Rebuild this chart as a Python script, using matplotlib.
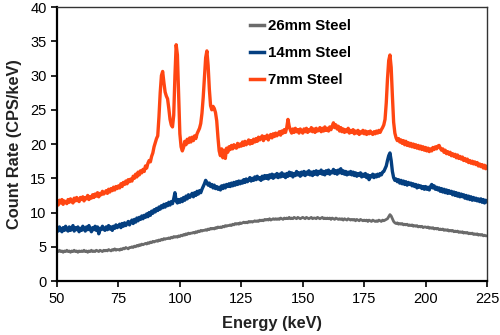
import numpy as np
import matplotlib
matplotlib.use("Agg")
import matplotlib.pyplot as plt

plt.rcParams['font.family'] = ['Liberation Sans', 'DejaVu Sans']

# Energy channels, 0.5 keV apart
energy = np.linspace(50, 225, 351)

steel_7mm = [
    11.6, 11.1, 11.8, 11.4, 11.9, 11.2, 11.7, 11.5, 11.3, 11.9,
    11.5, 12.0, 11.6, 11.4, 12.1, 11.7, 12.2, 11.8, 11.6, 12.2,
    11.9, 12.3, 11.7, 12.2, 12.0, 12.5, 11.9, 12.3, 12.1, 12.6,
    12.2, 12.7, 12.4, 12.9, 12.3, 12.8, 12.6, 13.1, 12.7, 12.9,
    13.2, 12.8, 13.4, 13.0, 13.5, 13.2, 13.7, 13.3, 13.8, 13.5,
    13.9, 13.6, 14.2, 13.8, 14.4, 14.1, 14.6, 14.2, 14.8, 14.5,
    14.9, 14.6, 15.3, 15.0, 15.6, 15.2, 15.9, 15.5, 16.1, 15.8,
    16.3, 16.0, 16.8, 16.5, 17.2, 17.6, 17.4, 18.2, 18.7, 19.6,
    20.2, 20.8, 21.2, 24.0, 27.5, 30.0, 30.6, 29.0, 27.6, 27.0,
    26.6, 25.2, 23.6, 22.8, 22.5, 24.2, 30.0, 34.5, 33.0, 27.0,
    21.5, 19.6, 19.0, 19.5, 20.4, 19.9, 20.7, 20.2, 20.9, 20.3,
    21.0, 20.5, 21.2, 20.8, 21.5, 21.9, 22.3, 23.0, 24.5, 26.8,
    29.8, 32.6, 33.6, 31.5, 28.0, 25.6, 25.0, 25.5, 25.2, 24.6,
    23.4, 21.0, 19.0, 18.3, 19.3, 18.0, 19.1, 17.9, 19.4, 18.8,
    19.6, 19.2, 19.8, 19.3, 19.9, 19.5, 19.4, 20.1, 19.6, 20.0,
    19.7, 20.3, 19.8, 20.4, 19.9, 20.2, 20.6, 20.0, 20.5, 20.1,
    20.7, 20.3, 20.8, 20.4, 21.0, 20.6, 20.9, 21.2, 20.5, 21.1,
    20.8, 21.3, 20.6, 21.1, 21.4, 20.9, 21.5, 21.1, 21.6, 21.2,
    21.5, 21.8, 21.3, 21.9, 21.6, 22.1, 21.7, 22.4, 23.6, 22.6,
    22.0, 21.6, 22.2, 21.7, 22.3, 21.8, 22.1, 21.6, 22.2, 21.9,
    21.6, 22.2, 21.8, 22.3, 21.7, 22.1, 21.9, 22.4, 21.8, 22.2,
    21.7, 22.3, 21.9, 22.0, 22.4, 21.8, 22.3, 21.9, 22.5, 22.0,
    22.3, 21.9, 22.5, 22.1, 22.6, 23.1, 22.4, 22.8, 22.2, 22.6,
    21.9, 22.4, 21.8, 22.2, 21.7, 22.1, 21.8, 22.3, 21.6, 22.0,
    21.7, 22.1, 21.5, 21.9, 21.6, 22.0, 21.4, 21.8, 21.6, 22.0,
    21.5, 21.9, 21.4, 21.8, 21.5, 21.9, 21.6, 21.4, 21.8, 21.5,
    21.9, 21.6, 22.0, 21.7, 22.1, 22.4, 22.8, 23.6, 26.0, 29.5,
    32.2, 33.0, 31.2, 27.0, 23.2, 21.6, 20.9, 20.5, 20.8, 20.3,
    20.6, 20.1, 20.5, 19.9, 20.4, 19.8, 20.2, 19.7, 20.1, 19.6,
    20.0, 19.5, 19.9, 19.4, 19.8, 19.3, 19.7, 19.2, 19.6, 19.1,
    19.5, 19.0, 19.4, 18.9, 19.3, 19.0, 19.5, 19.2, 19.6, 19.3,
    19.7, 19.8, 19.4, 19.1, 19.3, 18.8, 19.1, 18.6, 18.9, 18.5,
    18.8, 18.3, 18.6, 18.2, 18.5, 18.0, 18.4, 17.9, 18.2, 17.8,
    18.1, 17.6, 17.9, 17.5, 17.8, 17.3, 17.6, 17.2, 17.5, 17.1,
    17.4, 17.0, 17.3, 16.8, 17.1, 16.7, 17.0, 16.5, 16.9, 16.4,
    16.7,
]

steel_14mm = [
    7.8, 7.3, 7.9, 7.5, 7.2, 7.8, 7.4, 8.0, 7.5, 7.3,
    7.9, 7.4, 7.7, 8.1, 7.3, 7.8, 7.5, 7.9, 7.2, 7.7,
    7.4, 8.0, 7.6, 7.3, 7.9, 7.5, 8.1, 7.6, 7.2, 7.8,
    7.5, 8.0, 7.4, 7.9, 6.9, 7.7, 7.5, 8.0, 7.6, 7.4,
    7.9, 7.5, 8.1, 7.6, 7.9, 7.4, 8.0, 7.7, 8.2, 7.8,
    8.0, 8.3, 7.8, 8.4, 8.0, 8.5, 8.1, 8.4, 8.7, 8.2,
    8.6, 8.9, 8.4, 9.0, 8.6, 9.2, 8.8, 9.3, 9.0, 9.5,
    9.1, 9.6, 9.3, 9.8, 9.4, 10.0, 9.6, 10.2, 9.9, 10.4,
    10.1, 10.6, 10.3, 10.8, 10.5, 11.0, 10.7, 11.2, 10.8, 11.3,
    11.0, 11.5, 11.1, 11.6, 11.3, 12.0, 12.9, 11.7, 11.4, 11.9,
    11.5, 12.0, 11.6, 12.2, 11.8, 12.4, 12.0, 12.6, 12.2, 12.5,
    12.8, 12.3, 12.9, 12.5, 13.1, 12.7, 13.2, 12.9, 13.4, 13.8,
    14.2, 14.7, 14.4, 14.0, 14.3, 13.8, 14.1, 13.6, 14.0, 13.5,
    13.8, 13.4, 13.7, 13.3, 13.9, 13.5, 14.0, 13.6, 14.1, 13.8,
    14.2, 13.8, 14.3, 13.9, 14.4, 14.0, 14.5, 14.1, 14.6, 14.2,
    14.6, 14.3, 14.8, 14.4, 14.9, 14.5, 14.8, 15.1, 14.6, 15.0,
    14.7, 15.2, 14.8, 15.3, 14.9, 15.1, 14.7, 15.3, 14.9, 15.4,
    15.0, 15.4, 14.9, 15.5, 15.1, 15.6, 15.0, 15.5, 15.2, 15.7,
    15.1, 15.6, 15.2, 15.8, 15.3, 15.6, 15.1, 15.7, 15.3, 15.9,
    15.4, 15.8, 15.2, 15.7, 15.4, 16.0, 15.5, 15.8, 15.3, 15.9,
    15.5, 16.0, 15.4, 15.9, 15.6, 16.1, 15.5, 15.9, 15.4, 16.0,
    15.6, 16.1, 15.5, 16.0, 15.7, 16.2, 15.6, 16.0, 15.5, 16.1,
    15.7, 16.2, 15.6, 16.0, 15.8, 16.3, 15.7, 16.1, 15.6, 16.2,
    15.8, 16.4, 15.7, 16.1, 15.6, 16.0, 15.5, 15.9, 15.6, 16.0,
    15.5, 15.9, 15.4, 15.8, 15.3, 15.7, 15.4, 15.8, 15.2, 15.6,
    15.3, 15.7, 15.1, 15.5, 14.8, 15.4, 15.2, 15.6, 15.1, 15.5,
    15.2, 15.6, 15.3, 15.7, 15.5, 15.9, 16.0, 16.4, 16.8, 17.6,
    18.3, 18.7, 17.6, 16.0, 15.1, 14.7, 14.9, 14.5, 14.8, 14.3,
    14.7, 14.2, 14.6, 14.1, 14.5, 14.0, 14.4, 14.1, 14.3, 13.9,
    14.2, 13.8, 14.1, 13.6, 14.0, 13.7, 13.9, 13.5, 13.8, 13.4,
    13.8, 13.4, 13.7, 13.3, 13.8, 14.1, 13.6, 13.9, 13.4, 13.7,
    13.3, 13.6, 13.1, 13.5, 13.0, 13.4, 12.9, 13.3, 12.8, 13.2,
    12.8, 13.1, 12.6, 13.0, 12.5, 12.9, 12.4, 12.8, 12.3, 12.7,
    12.3, 12.6, 12.1, 12.5, 12.0, 12.4, 11.9, 12.3, 11.8, 12.2,
    11.8, 12.1, 11.7, 12.0, 11.6, 12.0, 11.5, 11.9, 11.4, 11.8,
    11.6,
]

steel_26mm = [
    4.4, 4.3, 4.5, 4.3, 4.4, 4.2, 4.4, 4.3, 4.5, 4.3,
    4.4, 4.2, 4.4, 4.3, 4.5, 4.3, 4.4, 4.2, 4.4, 4.3,
    4.4, 4.3, 4.5, 4.3, 4.4, 4.2, 4.4, 4.3, 4.5, 4.3,
    4.4, 4.3, 4.5, 4.4, 4.3, 4.5, 4.4, 4.3, 4.5, 4.4,
    4.5, 4.4, 4.6, 4.5, 4.4, 4.6, 4.5, 4.7, 4.5, 4.6,
    4.6, 4.5, 4.7, 4.6, 4.8, 4.7, 4.9, 4.8, 4.7, 4.9,
    4.9, 5.0, 4.9, 5.1, 5.0, 5.2, 5.1, 5.3, 5.2, 5.4,
    5.3, 5.4, 5.5, 5.4, 5.6, 5.5, 5.7, 5.6, 5.8, 5.7,
    5.8, 5.9, 5.8, 6.0, 5.9, 6.1, 6.0, 6.2, 6.1, 6.2,
    6.2, 6.3, 6.2, 6.4, 6.3, 6.5, 6.4, 6.5, 6.4, 6.6,
    6.5, 6.7, 6.6, 6.8, 6.7, 6.9, 6.8, 7.0, 6.9, 7.0,
    7.0, 7.1, 7.0, 7.2, 7.1, 7.3, 7.2, 7.4, 7.3, 7.4,
    7.4, 7.5, 7.4, 7.6, 7.5, 7.7, 7.6, 7.7, 7.6, 7.8,
    7.7, 7.9, 7.8, 7.9, 7.8, 8.0, 7.9, 8.1, 8.0, 8.1,
    8.1, 8.2, 8.1, 8.3, 8.2, 8.4, 8.3, 8.4, 8.3, 8.5,
    8.4, 8.5, 8.6, 8.5, 8.6, 8.5, 8.7, 8.6, 8.7, 8.6,
    8.7, 8.8, 8.7, 8.8, 8.7, 8.9, 8.8, 8.9, 8.8, 9.0,
    8.9, 9.0, 8.9, 9.1, 8.9, 9.0, 9.1, 9.0, 9.1, 9.0,
    9.1, 9.0, 9.2, 9.1, 9.0, 9.2, 9.1, 9.2, 9.1, 9.3,
    9.1, 9.2, 9.1, 9.3, 9.2, 9.1, 9.3, 9.2, 9.1, 9.2,
    9.3, 9.2, 9.1, 9.3, 9.2, 9.1, 9.2, 9.3, 9.1, 9.2,
    9.2, 9.1, 9.3, 9.2, 9.1, 9.2, 9.3, 9.1, 9.2, 9.1,
    9.2, 9.1, 9.2, 9.0, 9.2, 9.1, 9.0, 9.2, 9.1, 9.0,
    9.1, 9.0, 9.1, 8.9, 9.1, 9.0, 8.9, 9.1, 9.0, 8.9,
    9.0, 8.9, 9.0, 8.8, 9.0, 8.9, 8.8, 9.0, 8.9, 8.8,
    8.9, 8.8, 8.9, 8.7, 8.9, 8.8, 8.7, 8.9, 8.8, 8.7,
    8.8, 8.7, 8.9, 8.8, 8.7, 8.9, 8.8, 8.9, 9.0, 9.1,
    9.4, 9.7, 9.5, 9.1, 8.7, 8.5, 8.4, 8.5, 8.3, 8.4,
    8.3, 8.4, 8.2, 8.3, 8.2, 8.3, 8.1, 8.2, 8.1, 8.2,
    8.0, 8.1, 8.0, 8.1, 7.9, 8.0, 7.9, 8.0, 7.8, 7.9,
    7.9, 7.8, 7.9, 7.7, 7.8, 7.7, 7.8, 7.6, 7.7, 7.6,
    7.7, 7.5, 7.6, 7.5, 7.6, 7.4, 7.5, 7.4, 7.5, 7.3,
    7.4, 7.3, 7.4, 7.2, 7.3, 7.2, 7.3, 7.1, 7.2, 7.1,
    7.2, 7.0, 7.1, 7.0, 7.1, 6.9, 7.0, 6.9, 7.0, 6.8,
    6.9, 6.8, 6.9, 6.7, 6.8, 6.7, 6.8, 6.6, 6.7, 6.6,
    6.6,
]

labels = ["26mm Steel", "14mm Steel", "7mm Steel"]
colors = ["#6b6b6b", "#043f80", "#ff4612"]
widths = [2.0, 2.4, 2.4]
x_ticks = [50, 75, 100, 125, 150, 175, 200, 225]
y_ticks = [0, 5, 10, 15, 20, 25, 30, 35, 40]

fig = plt.figure(figsize=(5.0, 3.35), dpi=100)
ax = fig.add_axes([0.114, 0.161, 0.860, 0.818])

for series, label, color, lw in zip([steel_26mm, steel_14mm, steel_7mm], labels, colors, widths):
    ax.plot(energy, series, color=color, lw=lw, label=label)

ax.set_xlim(50, 225)
ax.set_ylim(0, 40)
ax.set_xticks(x_ticks)
ax.set_yticks(y_ticks)
ax.tick_params(direction="out", length=4, width=1.2, labelsize=10.5, colors="black")
ax.tick_params(axis="x", pad=4)

for side in ("left", "bottom"):
    ax.spines[side].set_linewidth(1.6)
    ax.spines[side].set_color("black")
for side in ("top", "right"):
    ax.spines[side].set_linewidth(1.0)
    ax.spines[side].set_color("#333333")

ax.set_xlabel("Energy (keV)", fontsize=11.8, fontweight="bold", color="#222222", labelpad=7)
ax.set_ylabel("Count Rate (CPS/keV)", fontsize=11.8, fontweight="bold", color="#222222", labelpad=6)

leg = ax.legend(loc="upper left", bbox_to_anchor=(0.449, 0.957), frameon=False,
                prop={"weight": "bold", "size": 10.8}, handlelength=0.9,
                handletextpad=0.3, labelspacing=0.88, borderpad=0, borderaxespad=0)
for line in leg.get_lines():
    line.set_linewidth(2.5)

fig.savefig("out.png", dpi=100)
